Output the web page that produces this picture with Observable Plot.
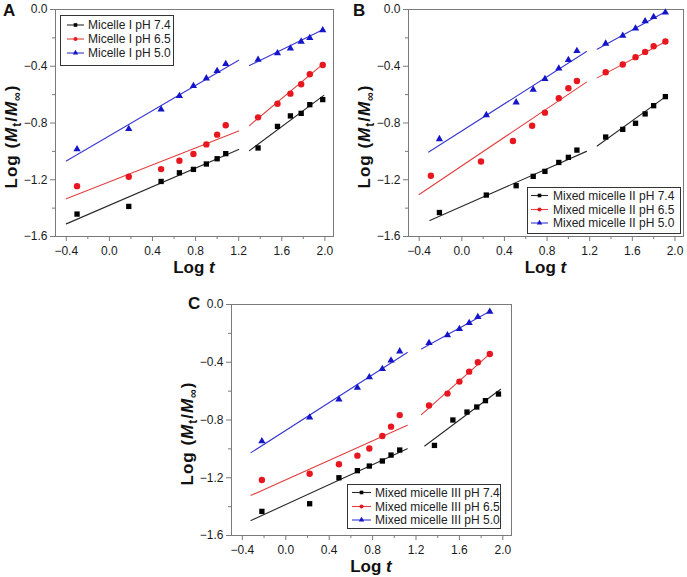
<!DOCTYPE html>
<html><head><meta charset="utf-8">
<script src="https://cdn.jsdelivr.net/npm/d3@7"></script>
<script src="https://cdn.jsdelivr.net/npm/@observablehq/plot@0.6"></script>
<style>
body{margin:0;background:#fff;}
#wrap{position:relative;width:687px;height:577px;overflow:hidden;font-family:"Liberation Sans",Arial,sans-serif;}
.panel{position:absolute;overflow:visible;}
</style></head><body><div id="wrap"></div>
<script>
// ---------- shared ticks ----------
const X_TICKS = [-0.4, 0.0, 0.4, 0.8, 1.2, 1.6, 2.0];
const X_MINOR = [-0.2, 0.2, 0.6, 1.0, 1.4, 1.8];
const Y_TICKS = [-1.6, -1.2, -0.8, -0.4, 0.0];
const Y_MINOR = [-1.4, -1.0, -0.6, -0.2];

// ---------- Panel A : Micelle I ----------
const labelsA = ["Micelle I pH 7.4", "Micelle I pH 6.5", "Micelle I pH 5.0"];
const xA = [-0.30, 0.18, 0.48, 0.65, 0.78, 0.90, 1.00, 1.08, 1.38, 1.56, 1.68, 1.78, 1.86, 1.98];
const yA_74 = [-1.442, -1.388, -1.212, -1.151, -1.127, -1.089, -1.052, -1.016, -0.976, -0.824, -0.750, -0.732, -0.671, -0.635];
const yA_65 = [-1.245, -1.179, -1.125, -1.066, -1.019, -0.951, -0.882, -0.816, -0.760, -0.664, -0.593, -0.527, -0.456, -0.391];
const yA_50 = [-0.984, -0.842, -0.704, -0.609, -0.539, -0.485, -0.433, -0.384, -0.353, -0.308, -0.275, -0.226, -0.200, -0.146];
// fitted segments: [x0, y0, x1, y1]
const fitA_74 = [[-0.40, -1.511, 1.20, -0.986], [1.30, -0.995, 1.99, -0.605]];
const fitA_65 = [[-0.40, -1.334, 1.20, -0.856], [1.30, -0.818, 1.99, -0.380]];
const fitA_50 = [[-0.40, -1.068, 1.20, -0.358], [1.30, -0.395, 1.99, -0.140]];

// ---------- Panel B : Mixed micelle II ----------
const labelsB = ["Mixed micelle II pH 7.4", "Mixed micelle II pH 6.5", "Mixed micelle II pH 5.0"];
const xB = [-0.21, 0.23, 0.51, 0.67, 0.78, 0.91, 1.00, 1.08, 1.35, 1.51, 1.63, 1.72, 1.80, 1.91];
const xB_65 = [-0.29, 0.18, 0.48, 0.66, 0.78, 0.91, 1.00, 1.08, 1.35, 1.51, 1.63, 1.72, 1.80, 1.91];
const yB_74 = [-1.431, -1.308, -1.242, -1.176, -1.141, -1.078, -1.042, -0.991, -0.899, -0.845, -0.802, -0.736, -0.678, -0.614];
const yB_65 = [-1.172, -1.071, -0.927, -0.819, -0.727, -0.626, -0.555, -0.504, -0.442, -0.388, -0.336, -0.299, -0.259, -0.226];
const yB_50 = [-0.913, -0.744, -0.654, -0.565, -0.489, -0.416, -0.355, -0.292, -0.240, -0.184, -0.134, -0.082, -0.052, -0.021];
const fitB_74 = [[-0.30, -1.487, 1.17, -1.000], [1.27, -0.962, 1.91, -0.616]];
const fitB_65 = [[-0.40, -1.304, 1.17, -0.512], [1.27, -0.482, 1.91, -0.228]];
const fitB_50 = [[-0.31, -1.005, 1.17, -0.296], [1.27, -0.280, 1.91, -0.016]];

// ---------- Panel C : Mixed micelle III ----------
const labelsC = ["Mixed micelle III pH 7.4", "Mixed micelle III pH 6.5", "Mixed micelle III pH 5.0"];
const xC_74 = [-0.22, 0.22, 0.49, 0.66, 0.77, 0.89, 0.97, 1.05, 1.37, 1.54, 1.67, 1.76, 1.84, 1.96];
const xC = [-0.22, 0.22, 0.49, 0.66, 0.77, 0.89, 0.97, 1.05, 1.32, 1.49, 1.60, 1.69, 1.77, 1.88];
const yC_74 = [-1.433, -1.380, -1.200, -1.151, -1.119, -1.084, -1.043, -1.008, -0.976, -0.800, -0.745, -0.710, -0.666, -0.620];
const yC_65 = [-1.216, -1.172, -1.107, -1.047, -0.997, -0.911, -0.846, -0.766, -0.700, -0.617, -0.534, -0.465, -0.400, -0.343];
const yC_50 = [-0.946, -0.782, -0.657, -0.576, -0.504, -0.446, -0.388, -0.324, -0.266, -0.213, -0.169, -0.128, -0.086, -0.049];
const fitC_74 = [[-0.32, -1.496, 1.12, -0.999], [1.28, -0.980, 1.98, -0.587]];
const fitC_65 = [[-0.32, -1.322, 1.12, -0.837], [1.25, -0.763, 1.89, -0.335]];
const fitC_50 = [[-0.32, -1.026, 1.12, -0.333], [1.25, -0.308, 1.89, -0.044]];

// ---------- styles ----------
const FONT = '"Liberation Sans", Arial, sans-serif';
const SYMBOLS = ["square", "circle", "triangle"];
const PT_COLORS = ["#000000", "#e8171f", "#1414c8"];
const LN_COLORS = ["#2a2a2a", "#e04040", "#3a3ad0"];
const R = [3.0, 3.2, 2.7];
const AXIS_GRAY = "#7a7a7a";

const panels = [
  {letter: "A", left: 0, top: 0, width: 345, height: 280, ml: 55, mr: 12, mt: 9, mb: 44, lx: 3, ly: 16,
   series: [{x: xA, y: yA_74, fit: fitA_74}, {x: xA, y: yA_65, fit: fitA_65}, {x: xA, y: yA_50, fit: fitA_50}],
   labels: labelsA, lg: {x: 60, y: 15, w: 113, h: 50, rows: [25, 39, 53], l0: 67, l1: 84, tx: 88}},
  {letter: "B", left: 350, top: 0, width: 337, height: 280, ml: 58, mr: 4, mt: 9, mb: 44, lx: 3, ly: 16,
   series: [{x: xB, y: yB_74, fit: fitB_74}, {x: xB_65, y: yB_65, fit: fitB_65}, {x: xB, y: yB_50, fit: fitB_50}],
   labels: labelsB, lg: {x: 177, y: 187, w: 153, h: 46, rows: [195.5, 209.5, 223], l0: 181, l1: 198, tx: 203}},
  {letter: "C", left: 170, top: 290, width: 350, height: 287, ml: 61, mr: 9, mt: 14, mb: 42, lx: 18, ly: 19,
   series: [{x: xC_74, y: yC_74, fit: fitC_74}, {x: xC, y: yC_65, fit: fitC_65}, {x: xC, y: yC_50, fit: fitC_50}],
   labels: labelsC, lg: {x: 177, y: 194, w: 153, h: 44, rows: [202.5, 216.5, 230], l0: 182, l1: 201, tx: 205}}
];

const wrap = document.getElementById("wrap");
const fmt = d3.format(".1f");

for (const p of panels) {
  const marks = [
    Plot.frame({stroke: AXIS_GRAY, strokeWidth: 1}),
    Plot.axisX(X_MINOR, {tickSize: 3, tickFormat: () => "", stroke: AXIS_GRAY, label: null}),
    Plot.axisX(X_TICKS, {tickSize: 5, tickPadding: 5, tickFormat: fmt, stroke: AXIS_GRAY, fill: "#1a1a1a", label: null}),
    Plot.axisY(Y_MINOR, {tickSize: 3, tickFormat: () => "", stroke: AXIS_GRAY, label: null}),
    Plot.axisY(Y_TICKS, {tickSize: 5, tickPadding: 3, tickFormat: fmt, stroke: AXIS_GRAY, fill: "#1a1a1a", label: null})
  ];
  p.series.forEach((s, i) => {
    const segs = [];
    s.fit.forEach((f, j) => {
      segs.push({x: f[0], y: f[1], g: j});
      segs.push({x: f[2], y: f[3], g: j});
    });
    marks.push(Plot.line(segs, {x: "x", y: "y", z: "g", stroke: LN_COLORS[i], strokeWidth: 1.1}));
  });
  p.series.forEach((s, i) => {
    const pts = s.x.map((x, j) => ({x, y: s.y[j]}));
    marks.push(Plot.dot(pts, {x: "x", y: "y", symbol: SYMBOLS[i], r: R[i], fill: PT_COLORS[i], stroke: "none"}));
  });

  const svgEl = Plot.plot({
    width: p.width, height: p.height,
    marginLeft: p.ml, marginRight: p.mr, marginTop: p.mt, marginBottom: p.mb,
    x: {domain: [-0.5, 2.08], label: null},
    y: {domain: [-1.6, 0], label: null},
    style: {fontFamily: FONT, fontSize: "12px", background: "transparent", color: "#1a1a1a", overflow: "visible"},
    marks
  });
  svgEl.style.position = "absolute";
  svgEl.style.left = p.left + "px";
  svgEl.style.top = p.top + "px";
  wrap.appendChild(svgEl);

  const svg = d3.select(svgEl);
  const fx0 = p.ml, fx1 = p.width - p.mr, fy0 = p.mt, fy1 = p.height - p.mb;

  // panel letter
  svg.append("text").attr("x", p.lx).attr("y", p.ly).attr("text-anchor", "start")
    .attr("font-family", FONT).attr("font-weight", "bold").attr("font-size", 17).attr("fill", "#111")
    .text(p.letter);

  // x axis title
  const xt = svg.append("text").attr("x", (fx0 + fx1) / 2).attr("y", fy1 + 37)
    .attr("text-anchor", "middle").attr("font-family", FONT).attr("font-weight", "bold")
    .attr("font-size", 17).attr("fill", "#111");
  xt.append("tspan").text("Log ");
  xt.append("tspan").attr("font-style", "italic").text("t");

  // y axis title
  const cy = (fy0 + fy1) / 2 + 14;
  const yt = svg.append("text")
    .attr("transform", `translate(${fx0 - 38},${cy}) rotate(-90)`)
    .attr("text-anchor", "middle").attr("font-family", FONT).attr("font-weight", "bold")
    .attr("font-size", 17).attr("fill", "#111").attr("letter-spacing", 1);
  yt.append("tspan").text("Log (");
  yt.append("tspan").attr("font-style", "italic").text("M");
  yt.append("tspan").attr("font-size", 12).attr("dy", 4).text("t");
  yt.append("tspan").attr("dy", -4).text("/");
  yt.append("tspan").attr("font-style", "italic").text("M");
  yt.append("tspan").attr("font-size", 12).attr("dy", 4).text("\u221E");
  yt.append("tspan").attr("dy", -4).text(")");

  // legend
  const lg = p.lg;
  const g = svg.append("g").attr("text-anchor", "start");
  g.append("rect").attr("x", lg.x + 0.5).attr("y", lg.y + 0.5).attr("width", lg.w).attr("height", lg.h)
    .attr("fill", "#fff").attr("stroke", "#333").attr("stroke-width", 1);
  const symGen = [d3.symbolSquare, d3.symbolCircle, d3.symbolTriangle];
  p.labels.forEach((lab, i) => {
    const yy = lg.rows[i];
    g.append("line").attr("x1", lg.l0).attr("x2", lg.l1).attr("y1", yy).attr("y2", yy)
      .attr("stroke", LN_COLORS[i]).attr("stroke-width", 1.1);
    g.append("path").attr("d", d3.symbol(symGen[i], 13)())
      .attr("transform", `translate(${(lg.l0 + lg.l1) / 2},${yy})`).attr("fill", PT_COLORS[i]);
    g.append("text").attr("x", lg.tx).attr("y", yy + 4.3).attr("text-anchor", "start")
      .attr("font-family", FONT).attr("font-size", 12).attr("fill", "#222").text(lab);
  });
}
</script>
</body></html>
